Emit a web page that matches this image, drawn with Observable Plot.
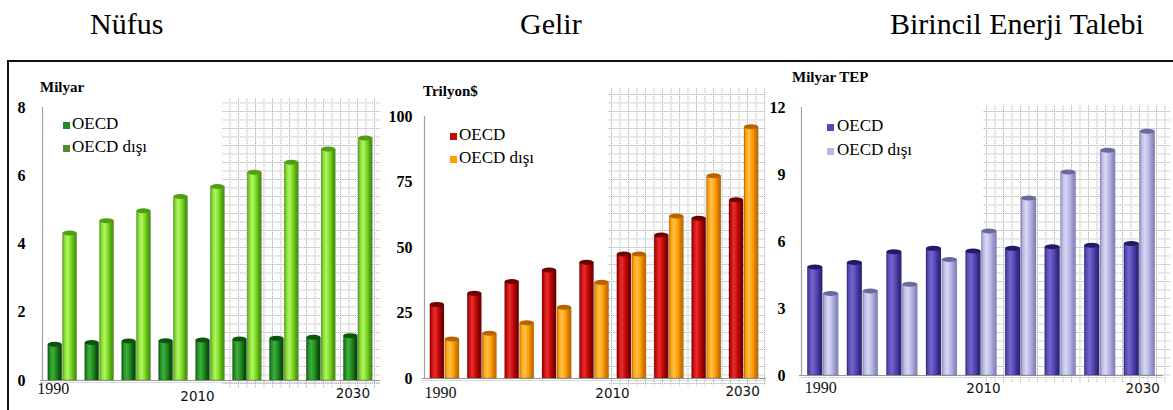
<!DOCTYPE html>
<html><head><meta charset="utf-8">
<script src="https://cdn.jsdelivr.net/npm/d3@7"></script>
<script src="https://cdn.jsdelivr.net/npm/@observablehq/plot@0.6"></script>
<style>
body{margin:0;background:#fff;}
#root{position:relative;width:1173px;height:410px;overflow:hidden;font-family:"Liberation Serif","Times New Roman",Times,serif;color:#000;}
.abs{position:absolute;white-space:nowrap;}
.title{font-size:30px;line-height:30px;}
.unit{font-size:15px;line-height:15px;font-weight:bold;}
.leg{font-size:17px;line-height:17px;}
.sq{position:absolute;width:7px;height:7px;}
#frame{position:absolute;left:7px;top:60px;width:1170px;height:360px;border-top:2px solid #111;border-left:2px solid #111;z-index:5;pointer-events:none;}
</style>
</head><body><div id="root"></div>
<script>
// ---- data ----
const years = [1990, 1995, 2000, 2005, 2010, 2015, 2020, 2025, 2030];
const tickYears = [1990, 2010, 2030];
const seriesNames = ["OECD", "OECD dışı"];
const panelTitles = ["Nüfus", "Gelir", "Birincil Enerji Talebi"];
const unitLabels = ["Milyar", "Trilyon$", "Milyar TEP"];
const popOECD    = [1.05, 1.10, 1.14, 1.15, 1.17, 1.20, 1.22, 1.25, 1.30];
const popNonOECD = [4.31, 4.67, 4.96, 5.38, 5.67, 6.09, 6.38, 6.77, 7.09];
const incOECD    = [28.1, 32.3, 36.8, 41.2, 44.2, 47.3, 54.6, 61.0, 68.0];
const incNonOECD = [14.9, 17.1, 21.1, 27.0, 36.5, 47.3, 61.8, 77.2, 95.9];
const enOECD     = [4.84, 5.04, 5.52, 5.67, 5.55, 5.67, 5.74, 5.81, 5.89];
const enNonOECD  = [3.65, 3.76, 4.06, 5.17, 6.45, 7.93, 9.09, 10.06, 10.91];
const popTicks = [0, 2, 4, 6, 8];
const incTicks = [0, 25, 50, 75, 100];
const enTicks  = [0, 3, 6, 9, 12];

// ---- layout / style config ----
const xDomain = [1987, 2033];
const serif = "Liberation Serif, Times New Roman, serif";
const sans = "DejaVu Sans, sans-serif";
const panels = [
  {id:"p1", left:0, width:390, mL:40, mR:10, mT:47, mB:30, ticks:popTicks, oecd:popOECD, non:popNonOECD, tickPad:15,
   o:["#0a4a0a","#1e8c1e","#3fae3f"], n:["#4a9812","#7fdb22","#b0f568"], capO:"#0b540b", capN:"#4f9e16",
   sqO:"#1e8c1e", sqN:"#4f8f2a",
   fc:[2011.6, 2033], fcTop:-9, fcBottom:-8,
   ldx:[-9.5,-13,-5.5], ldy:[13,20,17],
   titleLeft:90, unitPos:[40,80], legSq:63, legText:72, legTop:[115,138]},
  {id:"p2", left:390, width:385, mL:32, mR:9, mT:56, mB:32, ticks:incTicks, oecd:incOECD, non:incNonOECD, tickPad:10,
   o:["#7a0000","#c80808","#e53030"], n:["#c77000","#ffa000","#ffc050"], capO:"#6e0000", capN:"#b86200",
   sqO:"#c80808", sqN:"#ffa000",
   fc:[2011.9, 2033], fcTop:-28, fcBottom:-8,
   ldx:[-4.5,18,-1.5], ldy:[19,19,17],
   titleLeft:520, unitPos:[423,84], legSq:450, legText:459, legTop:[126,149]},
  {id:"p3", left:765, width:408, mL:34, mR:10, mT:47, mB:35, ticks:enTicks, oecd:enOECD, non:enNonOECD, tickPad:14,
   o:["#2f2680","#5548b4","#7466cc"], n:["#8a8ac0","#b8b8e6","#d8d8f6"], capO:"#221a66", capN:"#6a6aa0",
   sqO:"#5548b4", sqN:"#b8b8e6",
   fc:[2010.2, 2033.9], fcTop:-2, fcBottom:-8,
   ldx:[-2.5,2,3], ldy:[17,17,17],
   titleLeft:890, unitPos:[792,70], legSq:827, legText:837, legTop:[117,141]}
];

const root = document.getElementById("root");
const frame = document.createElement("div"); frame.id = "frame"; root.appendChild(frame);

function addDiv(cls, text, left, top, extra) {
  const d = document.createElement("div");
  d.className = "abs " + cls; d.textContent = text;
  d.style.left = left + "px"; d.style.top = top + "px";
  if (extra) Object.assign(d.style, extra);
  root.appendChild(d); return d;
}

panels.forEach((p, k) => {
  const rowsO = years.map((year, i) => ({year, series: seriesNames[0], value: p.oecd[i]}));
  const rowsN = years.map((year, i) => ({year, series: seriesNames[1], value: p.non[i]}));
  const yMax = p.ticks[p.ticks.length - 1];
  const half = 1.95, gap = 0.06;
  const bar = (rows, side, fill) => Plot.rect(rows, {
    x1: d => side < 0 ? d.year - half : d.year + gap,
    x2: d => side < 0 ? d.year - gap : d.year + half,
    y1: 0, y2: "value", fill, stroke: "rgba(0,0,0,0.25)", strokeWidth: 0.6});
  const cap = (rows, side, fill) => Plot.rect(rows, {
    x1: d => side < 0 ? d.year - half : d.year + gap,
    x2: d => side < 0 ? d.year - gap : d.year + half,
    y1: "value", y2: "value", insetTop: -2.5, insetBottom: -2.5, rx: 8, ry: 2.5, fill});

  const labelMarks = tickYears.map((yr, i) => Plot.text([yr], {
    x: d => d, frameAnchor: "bottom", dx: p.ldx[i], dy: p.ldy[i], text: d => String(d),
    fontFamily: i === 0 ? serif : sans, fontSize: i === 0 ? 16 : 13.5, fontWeight: "normal", fill: "#111"}));

  const svg = Plot.plot({
    width: p.width, height: 350,
    marginLeft: p.mL, marginRight: p.mR, marginTop: p.mT, marginBottom: p.mB,
    style: {fontFamily: serif, fontSize: "16px", fontWeight: "bold", background: "transparent", overflow: "visible"},
    x: {domain: xDomain, axis: null},
    y: {domain: [0, yMax], ticks: p.ticks, tickSize: 0, tickPadding: p.tickPad, label: null, tickFormat: d => String(d)},
    marks: [
      Plot.rect([p.fc], {x1: d => d[0], x2: d => d[1], y1: 0, y2: yMax, insetTop: p.fcTop, insetBottom: p.fcBottom,
        fill: "url(#grid-" + p.id + ")"}),
      Plot.ruleX([xDomain[0]], {y1: 0, y2: yMax, stroke: "#a0a0a0", strokeWidth: 1.2, dx: 2}),
      Plot.ruleY([0], {stroke: "#999", strokeWidth: 1.2}),
      Plot.ruleY([0], {stroke: "#d8d8d8", strokeWidth: 1, dy: 2}),
      bar(rowsO, -1, "url(#" + p.id + "o)"),
      bar(rowsN, 1, "url(#" + p.id + "n)"),
      cap(rowsO, -1, p.capO),
      cap(rowsN, 1, p.capN),
      ...labelMarks
    ]
  });

  const defs = d3.select(svg).insert("defs", ":first-child");
  const grad = (id, c) => {
    const g = defs.append("linearGradient").attr("id", id).attr("x1", "0").attr("x2", "1").attr("y1", "0").attr("y2", "0");
    [[0, c[0]], [0.12, c[1]], [0.35, c[2]], [0.6, c[1]], [0.88, c[0]], [1, c[0]]]
      .forEach(([o, col]) => g.append("stop").attr("offset", o).attr("stop-color", col));
  };
  grad(p.id + "o", p.o);
  grad(p.id + "n", p.n);
  const pat = defs.append("pattern").attr("id", "grid-" + p.id).attr("patternUnits", "userSpaceOnUse")
    .attr("width", 8.5).attr("height", 8.5);
  pat.append("rect").attr("width", 8.5).attr("height", 8.5).attr("fill", "#fff");
  pat.append("line").attr("x1", 0).attr("x2", 8.5).attr("y1", 0.5).attr("y2", 0.5)
    .attr("stroke", "#9a9a9a").attr("stroke-width", 1).attr("stroke-dasharray", "1,1.2");
  pat.append("line").attr("x1", 0.5).attr("x2", 0.5).attr("y1", 0).attr("y2", 8.5)
    .attr("stroke", "#9a9a9a").attr("stroke-width", 1).attr("stroke-dasharray", "1,1.2");

  const wrap = document.createElement("div");
  wrap.style.position = "absolute"; wrap.style.left = p.left + "px"; wrap.style.top = "60px";
  wrap.appendChild(svg);
  root.appendChild(wrap);

  addDiv("title", panelTitles[k], p.titleLeft, 9);
  addDiv("unit", unitLabels[k], p.unitPos[0], p.unitPos[1]);
  [p.sqO, p.sqN].forEach((c, j) => {
    const s = document.createElement("div"); s.className = "sq";
    s.style.left = p.legSq + "px"; s.style.top = (p.legTop[j] + 7) + "px"; s.style.background = c;
    root.appendChild(s);
    addDiv("leg", seriesNames[j], p.legText, p.legTop[j]);
  });
});
</script>
</body></html>
